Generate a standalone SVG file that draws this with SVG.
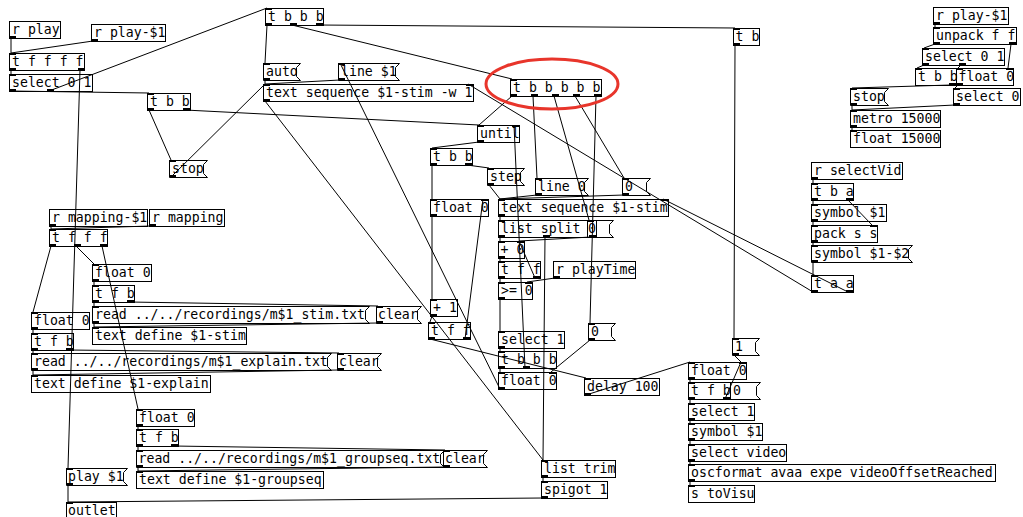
<svg xmlns="http://www.w3.org/2000/svg" width="1023" height="517" viewBox="0 0 1023 517">
<defs>
<style>
.o{fill:none;stroke:#000;stroke-width:1}
.m{fill:none;stroke:#000;stroke-width:1}
text{font-family:"DejaVu Sans Mono",monospace;font-size:13.2px;fill:#000}
.c line{stroke:#000;stroke-width:1;marker-start:url(#out);marker-end:url(#in)}
</style>
<marker id="out" markerUnits="userSpaceOnUse" markerWidth="8" markerHeight="3" refX="2" refY="2" orient="0" overflow="visible"><rect x="0" y="0" width="7" height="2" fill="#000"/></marker>
<marker id="in" markerUnits="userSpaceOnUse" markerWidth="8" markerHeight="3" refX="2" refY="0" orient="0" overflow="visible"><rect x="0" y="0" width="7" height="2" fill="#000"/></marker>
</defs>
<rect x="0" y="0" width="1023" height="517" fill="#fff"/>
<g id="nodes">
<g id="n1"><rect class="o" x="9.5" y="21.5" width="51" height="17"/><text x="12" y="34">r play</text></g>
<g id="n2"><rect class="o" x="91.5" y="24.5" width="74" height="17"/><text x="94" y="37">r play-$1</text></g>
<g id="n3"><rect class="o" x="9.5" y="53.5" width="75" height="17"/><text x="12" y="66">t f f f f</text></g>
<g id="n4"><rect class="o" x="9.5" y="74.5" width="83" height="17"/><text x="12" y="87">select 0 1</text></g>
<g id="n5"><rect class="o" x="147.5" y="93.5" width="43" height="17"/><text x="150" y="106">t b b</text></g>
<g id="n6"><path class="m" d="M169.5 160.5H207.5L203.5 164.5V173.5L207.5 177.5H169.5Z"/><text x="172" y="173">stop</text></g>
<g id="n7"><rect class="o" x="265.5" y="8.5" width="58" height="17"/><text x="268" y="21">t b b b</text></g>
<g id="n8"><path class="m" d="M263.5 63.5H300.5L296.5 67.5V76.5L300.5 80.5H263.5Z"/><text x="266" y="76">auto</text></g>
<g id="n9"><path class="m" d="M338.5 63.5H399.5L395.5 67.5V76.5L399.5 80.5H338.5Z"/><text x="341" y="76">line $1</text></g>
<g id="n10"><rect class="o" x="263.5" y="84.5" width="210" height="17"/><text x="266" y="97">text sequence $1-stim -w 1</text></g>
<g id="n11"><rect class="o" x="510.5" y="79.5" width="91" height="17"/><text x="513" y="92">t b b b b b</text></g>
<g id="n12"><rect class="o" x="477.5" y="125.5" width="42" height="17"/><text x="480" y="138">until</text></g>
<g id="n13"><rect class="o" x="430.5" y="148.5" width="42" height="17"/><text x="433" y="161">t b b</text></g>
<g id="n14"><path class="m" d="M487.5 168.5H524.5L520.5 172.5V181.5L524.5 185.5H487.5Z"/><text x="490" y="181">step</text></g>
<g id="n15"><path class="m" d="M535.5 178.5H588.5L584.5 182.5V191.5L588.5 195.5H535.5Z"/><text x="538" y="191">line 0</text></g>
<g id="n16"><path class="m" d="M622.5 178.5H650.5L646.5 182.5V191.5L650.5 195.5H622.5Z"/><text x="625" y="191">0</text></g>
<g id="n17"><rect class="o" x="733.5" y="28.5" width="26" height="17"/><text x="735.5" y="41">t b</text></g>
<g id="n18"><rect class="o" x="933.5" y="7.5" width="75" height="17"/><text x="936" y="20">r play-$1</text></g>
<g id="n19"><rect class="o" x="933.5" y="27.5" width="83" height="17"/><text x="936" y="40">unpack f f</text></g>
<g id="n20"><rect class="o" x="922.5" y="48.5" width="82" height="17"/><text x="925" y="61">select 0 1</text></g>
<g id="n21"><rect class="o" x="915.5" y="68.5" width="41" height="17"/><text x="918" y="81">t b b</text></g>
<g id="n22"><rect class="o" x="956.5" y="68.5" width="57" height="17"/><text x="958.5" y="81">float 0</text></g>
<g id="n23"><path class="m" d="M850.5 88.5H888.5L884.5 92.5V101.5L888.5 105.5H850.5Z"/><text x="853" y="101">stop</text></g>
<g id="n24"><rect class="o" x="953.5" y="88.5" width="67" height="17"/><text x="956" y="101">select 0</text></g>
<g id="n25"><rect class="o" x="850.5" y="110.5" width="90" height="17"/><text x="853" y="123">metro 15000</text></g>
<g id="n26"><rect class="o" x="850.5" y="130.5" width="90" height="17"/><text x="853" y="143">float 15000</text></g>
<g id="n27"><rect class="o" x="811.5" y="162.5" width="91" height="17"/><text x="814" y="175">r selectVid</text></g>
<g id="n28"><rect class="o" x="811.5" y="183.5" width="42" height="17"/><text x="814" y="196">t b a</text></g>
<g id="n29"><rect class="o" x="811.5" y="204.5" width="75" height="17"/><text x="814" y="217">symbol $1</text></g>
<g id="n30"><rect class="o" x="811.5" y="225.5" width="66" height="17"/><text x="814" y="238">pack s s</text></g>
<g id="n31"><path class="m" d="M811.5 245.5H912.5L908.5 249.5V258.5L912.5 262.5H811.5Z"/><text x="814" y="258">symbol $1-$2</text></g>
<g id="n32"><rect class="o" x="811.5" y="275.5" width="42" height="17"/><text x="814" y="288">t a a</text></g>
<g id="n33"><rect class="o" x="430.5" y="199.5" width="58" height="17"/><text x="433" y="212">float 0</text></g>
<g id="n34"><rect class="o" x="498.5" y="199.5" width="170" height="17"/><text x="501" y="212">text sequence $1-stim</text></g>
<g id="n35"><rect class="o" x="498.5" y="220.5" width="98" height="17"/><text x="501" y="233">list split</text></g>
<g id="n36"><path class="m" d="M587.5 220.5H613.5L609.5 224.5V233.5L613.5 237.5H587.5Z"/><text x="588" y="233">0</text></g>
<g id="n37"><rect class="o" x="498.5" y="241.5" width="26" height="17"/><text x="500.5" y="254">+ 0</text></g>
<g id="n38"><rect class="o" x="498.5" y="261.5" width="42" height="17"/><text x="501" y="274">t f f</text></g>
<g id="n39"><rect class="o" x="553.5" y="261.5" width="82" height="17"/><text x="556" y="274">r playTime</text></g>
<g id="n40"><rect class="o" x="498.5" y="282.5" width="34" height="17"/><text x="501" y="295">&gt;= 0</text></g>
<g id="n41"><rect class="o" x="430.5" y="299.5" width="27" height="17"/><text x="433" y="312">+ 1</text></g>
<g id="n42"><rect class="o" x="428.5" y="322.5" width="42" height="17"/><text x="431" y="335">t f f</text></g>
<g id="n43"><rect class="o" x="498.5" y="331.5" width="66" height="17"/><text x="501" y="344">select 1</text></g>
<g id="n44"><path class="m" d="M588.5 323.5H615.5L611.5 327.5V336.5L615.5 340.5H588.5Z"/><text x="591" y="336">0</text></g>
<g id="n45"><rect class="o" x="498.5" y="351.5" width="58" height="17"/><text x="501" y="364">t b b b</text></g>
<g id="n46"><rect class="o" x="498.5" y="372.5" width="58" height="17"/><text x="501" y="385">float 0</text></g>
<g id="n47"><rect class="o" x="584.5" y="378.5" width="75" height="17"/><text x="587" y="391">delay 100</text></g>
<g id="n48"><path class="m" d="M732.5 338.5H759.5L755.5 342.5V351.5L759.5 355.5H732.5Z"/><text x="735" y="351">1</text></g>
<g id="n49"><rect class="o" x="688.5" y="362.5" width="58" height="17"/><text x="691" y="375">float 0</text></g>
<g id="n50"><rect class="o" x="688.5" y="382.5" width="42" height="17"/><text x="691" y="395">t f b</text></g>
<g id="n51"><path class="m" d="M730.5 382.5H760.5L756.5 386.5V395.5L760.5 399.5H730.5Z"/><text x="733" y="395">0</text></g>
<g id="n52"><rect class="o" x="688.5" y="403.5" width="66" height="17"/><text x="691" y="416">select 1</text></g>
<g id="n53"><rect class="o" x="688.5" y="423.5" width="74" height="17"/><text x="691" y="436">symbol $1</text></g>
<g id="n54"><rect class="o" x="688.5" y="444.5" width="98" height="17"/><text x="691" y="457">select video</text></g>
<g id="n55"><rect class="o" x="688.5" y="464.5" width="307" height="17"/><text x="691" y="477">oscformat avaa expe videoOffsetReached</text></g>
<g id="n56"><rect class="o" x="688.5" y="485.5" width="66" height="17"/><text x="691" y="498">s toVisu</text></g>
<g id="n57"><rect class="o" x="541.5" y="460.5" width="74" height="17"/><text x="544" y="473">list trim</text></g>
<g id="n58"><rect class="o" x="541.5" y="481.5" width="66" height="17"/><text x="544" y="494">spigot 1</text></g>
<g id="n59"><rect class="o" x="49.5" y="209.5" width="98" height="17"/><text x="52" y="222">r mapping-$1</text></g>
<g id="n60"><rect class="o" x="149.5" y="209.5" width="75" height="17"/><text x="152" y="222">r mapping</text></g>
<g id="n61"><rect class="o" x="49.5" y="229.5" width="58" height="17"/><text x="52" y="242">t f f f</text></g>
<g id="n62"><rect class="o" x="92.5" y="264.5" width="59" height="17"/><text x="95" y="277">float 0</text></g>
<g id="n63"><rect class="o" x="92.5" y="285.5" width="42" height="17"/><text x="95" y="298">t f b</text></g>
<g id="n64"><path class="m" d="M92.5 306.5H369.5L365.5 310.5V319.5L369.5 323.5H92.5Z"/><text x="95" y="319">read ../../recordings/m$1_stim.txt</text></g>
<g id="n65"><path class="m" d="M376.5 306.5H421.5L417.5 310.5V319.5L421.5 323.5H376.5Z"/><text x="378" y="319">clear</text></g>
<g id="n66"><rect class="o" x="92.5" y="327.5" width="154" height="17"/><text x="95" y="340">text define $1-stim</text></g>
<g id="n67"><rect class="o" x="31.5" y="312.5" width="58" height="17"/><text x="34" y="325">float 0</text></g>
<g id="n68"><rect class="o" x="31.5" y="333.5" width="42" height="17"/><text x="34" y="346">t f b</text></g>
<g id="n69"><path class="m" d="M31.5 353.5H331.5L327.5 357.5V366.5L331.5 370.5H31.5Z"/><text x="34" y="366">read ../../recordings/m$1_explain.txt</text></g>
<g id="n70"><path class="m" d="M337.5 353.5H381.5L377.5 357.5V366.5L381.5 370.5H337.5Z"/><text x="339" y="366">clear</text></g>
<g id="n71"><rect class="o" x="31.5" y="375.5" width="179" height="17"/><text x="34" y="388">text define $1-explain</text></g>
<g id="n72"><rect class="o" x="136.5" y="409.5" width="58" height="17"/><text x="139" y="422">float 0</text></g>
<g id="n73"><rect class="o" x="136.5" y="429.5" width="42" height="17"/><text x="139" y="442">t f b</text></g>
<g id="n74"><path class="m" d="M136.5 450.5H444.5L440.5 454.5V463.5L444.5 467.5H136.5Z"/><text x="138.5" y="463">read ../../recordings/m$1_groupseq.txt</text></g>
<g id="n75"><path class="m" d="M443.5 450.5H487.5L483.5 454.5V463.5L487.5 467.5H443.5Z"/><text x="445" y="463">clear</text></g>
<g id="n76"><rect class="o" x="136.5" y="471.5" width="187" height="17"/><text x="139" y="484">text define $1-groupseq</text></g>
<g id="n77"><path class="m" d="M66.5 468.5H127.5L123.5 472.5V481.5L127.5 485.5H66.5Z"/><text x="68" y="481">play $1</text></g>
<g id="n78"><rect class="o" x="66.5" y="502.5" width="50" height="17"/><text x="68" y="515">outlet</text></g>
</g>
<g id="connections" class="c">
<line x1="11" y1="38" x2="11" y2="53"/>
<line x1="93" y1="41" x2="11" y2="53"/>
<line x1="11" y1="70" x2="11" y2="74"/>
<line x1="80" y1="70" x2="68" y2="468"/>
<line x1="49" y1="91" x2="267" y2="8"/>
<line x1="11" y1="91" x2="149" y2="93"/>
<line x1="149" y1="110" x2="171" y2="160"/>
<line x1="185" y1="110" x2="479" y2="125"/>
<line x1="267" y1="25" x2="265" y2="63"/>
<line x1="292" y1="25" x2="512" y2="79"/>
<line x1="318" y1="25" x2="735" y2="28"/>
<line x1="265" y1="80" x2="265" y2="84"/>
<line x1="340" y1="80" x2="265" y2="84"/>
<line x1="171" y1="177" x2="265" y2="84"/>
<line x1="500" y1="389" x2="340" y2="63"/>
<line x1="265" y1="101" x2="543" y2="460"/>
<line x1="813" y1="292" x2="468" y2="84"/>
<line x1="848" y1="292" x2="663" y2="199"/>
<line x1="512" y1="96" x2="479" y2="125"/>
<line x1="533" y1="96" x2="537" y2="178"/>
<line x1="554" y1="96" x2="589" y2="220"/>
<line x1="575" y1="96" x2="624" y2="178"/>
<line x1="596" y1="96" x2="590" y2="323"/>
<line x1="479" y1="142" x2="432" y2="148"/>
<line x1="525" y1="368" x2="514" y2="125"/>
<line x1="545" y1="237" x2="543" y2="460"/>
<line x1="590" y1="340" x2="551" y2="372"/>
<line x1="430" y1="339" x2="586" y2="378"/>
<line x1="586" y1="395" x2="690" y2="362"/>
<line x1="734" y1="355" x2="741" y2="362"/>
<line x1="735" y1="45" x2="734" y2="338"/>
<line x1="690" y1="379" x2="690" y2="382"/>
<line x1="725" y1="399" x2="741" y2="362"/>
<line x1="690" y1="399" x2="690" y2="403"/>
<line x1="690" y1="420" x2="690" y2="423"/>
<line x1="690" y1="440" x2="690" y2="444"/>
<line x1="690" y1="461" x2="690" y2="464"/>
<line x1="690" y1="481" x2="690" y2="485"/>
<line x1="500" y1="299" x2="500" y2="331"/>
<line x1="500" y1="348" x2="500" y2="351"/>
<line x1="500" y1="368" x2="500" y2="372"/>
<line x1="500" y1="278" x2="500" y2="282"/>
<line x1="500" y1="258" x2="500" y2="261"/>
<line x1="535" y1="278" x2="519" y2="241"/>
<line x1="555" y1="278" x2="527" y2="282"/>
<line x1="500" y1="237" x2="500" y2="241"/>
<line x1="591" y1="237" x2="519" y2="241"/>
<line x1="500" y1="216" x2="500" y2="220"/>
<line x1="489" y1="185" x2="500" y2="199"/>
<line x1="537" y1="195" x2="500" y2="199"/>
<line x1="624" y1="195" x2="500" y2="199"/>
<line x1="432" y1="165" x2="432" y2="199"/>
<line x1="432" y1="216" x2="432" y2="299"/>
<line x1="467" y1="165" x2="489" y2="168"/>
<line x1="432" y1="316" x2="430" y2="322"/>
<line x1="465" y1="339" x2="483" y2="199"/>
<line x1="543" y1="477" x2="543" y2="481"/>
<line x1="543" y1="498" x2="68" y2="502"/>
<line x1="68" y1="485" x2="68" y2="502"/>
<line x1="51" y1="226" x2="51" y2="229"/>
<line x1="151" y1="226" x2="51" y2="229"/>
<line x1="51" y1="246" x2="33" y2="312"/>
<line x1="76" y1="246" x2="94" y2="264"/>
<line x1="102" y1="246" x2="138" y2="409"/>
<line x1="94" y1="281" x2="94" y2="285"/>
<line x1="94" y1="302" x2="94" y2="306"/>
<line x1="129" y1="302" x2="378" y2="306"/>
<line x1="94" y1="323" x2="94" y2="327"/>
<line x1="378" y1="323" x2="94" y2="327"/>
<line x1="33" y1="329" x2="33" y2="333"/>
<line x1="33" y1="350" x2="33" y2="353"/>
<line x1="68" y1="350" x2="339" y2="353"/>
<line x1="33" y1="370" x2="33" y2="375"/>
<line x1="339" y1="370" x2="33" y2="375"/>
<line x1="138" y1="426" x2="138" y2="429"/>
<line x1="138" y1="446" x2="138" y2="450"/>
<line x1="173" y1="446" x2="445" y2="450"/>
<line x1="138" y1="467" x2="138" y2="471"/>
<line x1="445" y1="467" x2="138" y2="471"/>
<line x1="935" y1="24" x2="935" y2="27"/>
<line x1="935" y1="44" x2="924" y2="48"/>
<line x1="1011" y1="44" x2="1008" y2="68"/>
<line x1="924" y1="65" x2="917" y2="68"/>
<line x1="961" y1="65" x2="958" y2="68"/>
<line x1="951" y1="85" x2="852" y2="88"/>
<line x1="958" y1="85" x2="955" y2="88"/>
<line x1="955" y1="105" x2="852" y2="110"/>
<line x1="852" y1="105" x2="852" y2="110"/>
<line x1="852" y1="127" x2="852" y2="130"/>
<line x1="813" y1="179" x2="813" y2="183"/>
<line x1="813" y1="200" x2="813" y2="204"/>
<line x1="848" y1="200" x2="872" y2="225"/>
<line x1="813" y1="221" x2="813" y2="225"/>
<line x1="813" y1="242" x2="813" y2="245"/>
<line x1="813" y1="262" x2="813" y2="275"/>
</g>
<ellipse id="highlight" cx="552" cy="84" rx="66" ry="25" fill="none" stroke="#e8352b" stroke-width="3"/>
</svg>
